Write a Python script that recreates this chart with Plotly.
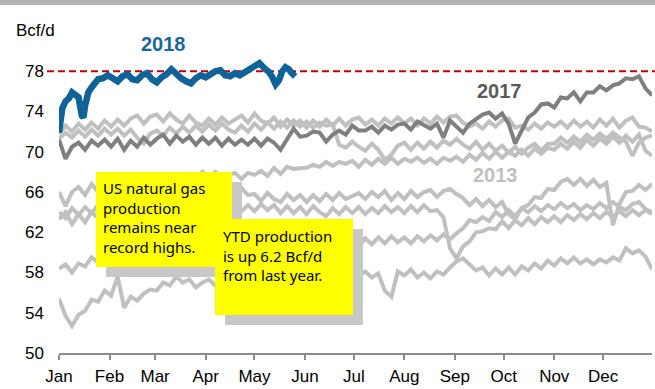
import pandas as pd
import plotly.graph_objects as go

# ---------------------------------------------------------------------------
# Daily US dry gas production (Bcf/d), sampled every 4 days of the year
# ---------------------------------------------------------------------------
BASE = pd.Timestamp("2018-01-01")
grid_days = list(range(0, 365, 4))

prod_2010 = [
    55.4, 53.7, 52.7, 53.8, 54.2, 55.3, 55.1, 56.2,
    55.7, 57.6, 54.5, 55.6, 55.2, 55.9, 56.3,
    56.2, 57.0, 56.7, 57.6, 57.0, 57.3, 56.5, 57.0,
    57.3, 56.7, 57.4, 56.9, 57.5, 57.1, 57.6,
    56.9, 57.5, 57.2, 57.8, 57.1, 57.7, 57.3, 57.9,
    57.4, 57.9, 57.3, 58.0, 57.5, 57.9, 57.6, 58.1,
    57.7, 58.1, 57.5, 57.9, 56.2, 55.6, 58.1,
    57.7, 58.3, 57.5, 58.0, 57.4, 58.1, 57.8, 58.5,
    59.1, 59.4, 58.8, 58.2, 58.5, 57.7, 58.4, 57.8,
    58.5, 57.8, 58.6, 58.2, 58.9, 58.4, 59.2,
    58.7, 59.4, 58.9, 59.5, 58.9, 59.3, 58.8, 59.3,
    59.0, 59.5, 59.2, 60.4, 59.9, 60.2, 59.6, 58.3,
]

prod_2011 = [
    58.4, 58.8, 58.0, 58.9, 58.6, 59.5, 59.0, 59.8,
    59.2, 59.9, 59.3, 60.1, 59.5, 60.2, 59.7,
    60.3, 59.8, 60.4, 59.9, 60.5, 60.0, 60.6, 60.1,
    60.7, 60.2, 60.8, 60.3, 60.9, 60.4, 61.0,
    60.5, 61.1, 60.6, 61.2, 60.7, 61.3, 60.8, 61.4,
    60.9, 61.5, 61.0, 60.7, 61.4, 60.9, 61.5, 61.0,
    60.6, 61.4, 60.8, 61.5, 60.9, 61.6, 61.0,
    61.5, 60.9, 61.6, 61.1, 61.7, 61.2, 61.8, 61.3,
    61.9, 62.4, 63.2, 63.0, 63.5, 63.1, 64.0, 63.5,
    64.2, 63.6, 64.4, 64.0, 64.6, 64.1, 64.7,
    64.3, 64.9, 64.4, 64.8, 64.2, 64.7, 64.3, 64.9,
    64.4, 65.0, 64.5, 64.2, 64.8, 65.0, 64.3, 64.0,
]

prod_2012 = [
    63.3, 64.0, 62.8, 63.8, 63.0, 64.0, 63.4, 64.2,
    63.5, 64.3, 63.7, 64.4, 63.8, 64.5, 63.9,
    64.6, 64.0, 64.7, 64.1, 64.8, 64.2, 64.7, 64.1,
    64.8, 64.2, 64.9, 64.3, 64.8, 64.1, 64.7,
    64.1, 64.8, 64.2, 64.7, 63.9, 64.6, 63.9, 64.5,
    63.8, 64.6, 64.0, 63.6, 64.4, 63.8, 64.5, 63.9,
    64.5, 63.8, 64.4, 63.9, 64.6, 64.0, 64.5,
    63.9, 64.6, 64.0, 64.7, 64.1, 64.2, 63.5, 60.4,
    59.4, 60.6, 61.1, 62.0, 62.1, 62.4, 62.3, 63.1,
    62.4, 63.2, 62.7, 63.4, 62.8, 63.5, 63.0,
    63.6, 63.0, 63.7, 63.2, 63.8, 63.3, 63.9, 63.4,
    64.0, 63.5, 64.1, 63.6, 64.2, 63.7, 64.2, 63.8,
]

prod_2013 = [
    64.0, 63.4, 64.4, 63.7, 64.5, 63.9, 64.7, 64.1,
    64.8, 64.2, 64.9, 64.4, 65.1, 64.5, 65.2,
    64.6, 65.3, 64.7, 65.4, 64.8, 65.5, 64.9, 65.6,
    65.0, 65.7, 65.1, 65.8, 65.7, 66.4, 65.7,
    65.8, 65.1, 65.9, 65.3, 65.0, 65.8, 65.2, 65.7,
    65.0, 65.7, 65.1, 65.8, 65.2, 65.9, 65.3, 65.6,
    65.9, 65.3, 66.0, 65.5, 66.1, 65.2, 65.9,
    65.3, 66.1, 65.5, 66.0, 66.2, 65.5, 66.1, 66.3,
    65.8, 65.4, 64.7, 65.3, 64.6, 65.2, 64.5, 65.0,
    63.8, 63.3, 64.4, 64.7, 65.5, 65.4, 66.3,
    66.2, 67.0, 67.3, 66.7, 67.3, 66.6, 67.2, 66.5,
    66.9, 62.7, 64.8, 66.0, 66.1, 66.7, 66.2, 66.8,
]

prod_2014 = [
    66.0, 64.6, 66.0, 66.5, 65.7, 66.8, 66.0, 66.2,
    66.7, 66.5, 67.0, 66.6, 67.3, 66.7, 67.4,
    66.9, 67.6, 67.0, 67.7, 67.1, 67.8, 67.2, 68.0,
    67.4, 68.0, 67.4, 67.7, 67.9, 67.3, 67.9,
    67.7, 68.1, 67.6, 68.4, 67.8, 68.5, 68.3, 68.4,
    68.4, 68.7, 68.5, 69.0, 68.6, 69.0, 68.8, 69.1,
    68.5, 69.2, 68.7, 69.3, 68.8, 69.4, 68.8,
    69.3, 69.0, 69.4, 68.9, 69.3, 68.8, 69.4, 69.1,
    69.5, 69.0, 69.7, 69.2, 69.9, 69.3, 70.0, 69.4,
    70.0, 69.6, 70.2, 69.6, 70.3, 69.8, 70.4,
    70.2, 70.8, 70.3, 71.0, 70.4, 71.2, 70.6, 71.3,
    70.8, 71.5, 70.9, 71.6, 71.0, 71.7, 70.1, 69.6,
]

prod_2015 = [
    71.8, 72.6, 72.0, 72.8, 72.2, 72.9, 72.3, 73.1,
    72.5, 73.2, 72.6, 73.3, 73.6, 72.8, 73.5,
    73.7, 73.0, 73.8, 73.2, 72.8, 73.6, 72.9, 72.6,
    73.3, 72.7, 73.4, 72.8, 73.2, 73.6, 72.9,
    73.8, 73.1, 72.8, 73.4, 72.5, 73.2, 72.6, 73.1,
    72.4, 73.1, 72.5, 73.2, 72.6, 73.3, 72.6, 73.2,
    73.4, 72.7, 73.2, 72.6, 73.3, 72.8, 73.4,
    72.8, 73.3, 72.6, 73.3, 72.8, 73.5, 72.9, 73.5,
    73.6, 72.9, 72.5, 72.8, 72.3, 73.0, 72.5, 73.1,
    73.3, 72.4, 72.6, 72.2, 72.8, 72.3, 72.9,
    72.5, 73.0, 72.4, 73.1, 72.5, 73.0, 72.4, 73.2,
    72.6, 73.3, 72.4, 73.1, 73.4, 72.5, 72.4, 72.0,
]

prod_2016 = [
    71.3, 71.9, 71.4, 72.1, 71.5, 72.2, 71.6, 72.3,
    71.7, 72.3, 71.6, 72.2, 71.4, 70.8, 71.8,
    72.1, 71.6, 72.4, 71.8, 72.5, 71.9, 72.6, 72.0,
    72.7, 72.1, 72.8, 72.2, 71.9, 72.6, 72.0,
    72.8, 72.2, 72.9, 72.3, 73.0, 72.4, 73.1, 72.5,
    73.0, 72.4, 72.9, 72.6, 72.7, 70.7, 70.4, 71.0,
    70.5, 70.1, 70.8, 70.2, 69.2, 69.7, 70.6,
    70.9, 70.2, 70.9, 70.3, 71.0, 70.4, 71.1, 70.7,
    71.3, 70.7, 70.3, 71.0, 70.2, 70.8, 70.1, 70.6,
    69.9, 70.5, 69.8, 70.4, 70.8, 70.1, 70.8,
    70.8, 71.4, 70.9, 71.5, 71.0, 71.7, 71.2, 71.8,
    71.3, 71.9, 71.4, 71.0, 69.6, 70.9, 71.4, 71.6,
]

prod_2017 = [
    71.2, 69.3, 70.5, 70.9, 70.2, 71.1, 70.6, 71.2,
    70.5, 71.3, 70.2, 71.1, 70.5, 71.4, 70.7,
    71.3, 71.7, 70.8, 71.6, 71.0, 71.5, 70.7, 71.4,
    70.8, 71.4, 70.6, 71.3, 70.7, 71.2, 70.7,
    71.3, 70.6, 71.3, 70.9, 70.2, 71.3, 72.3, 71.5,
    71.6, 72.0, 71.9, 71.0, 71.7, 72.1, 71.7, 72.6,
    72.1, 72.1, 72.5, 71.9, 72.6, 72.2, 72.7,
    72.8, 72.2, 73.0, 72.6, 72.3, 72.8, 71.4, 73.1,
    72.5, 71.9, 72.8, 73.2, 73.7, 73.9, 73.3, 73.8,
    72.8, 70.8, 72.0, 73.4, 73.9, 74.7, 74.8,
    74.4, 75.4, 75.3, 75.9, 75.0, 75.9, 75.9, 76.5,
    76.1, 76.6, 76.8, 77.3, 77.2, 77.5, 76.3, 75.6,
]

# 2018 year to date
days_2018 = [0, 2, 4, 6, 8, 10, 12, 14, 15, 16, 18, 20, 22, 24, 27, 30,
             33, 36, 39, 42, 45, 48, 51, 54, 57, 60, 63, 66, 69, 72, 75,
             78, 81, 84, 87, 90, 93, 96, 99, 102, 105, 108, 111, 114, 117,
             120, 123, 126, 129, 131, 133, 135, 137, 139, 141, 143, 145]
prod_2018 = [71.9, 74.3, 75.0, 75.3, 75.9, 75.7, 75.4, 73.6, 73.4, 74.6,
             75.9, 76.4, 76.9, 77.2, 77.3, 77.6, 77.3, 77.0, 77.5, 77.7,
             77.2, 77.1, 77.6, 77.8, 77.2, 76.9, 77.4, 77.7, 78.2, 77.7,
             77.3, 77.0, 76.8, 77.3, 77.6, 77.4, 77.7, 78.0, 78.1, 77.6,
             77.5, 77.8, 77.6, 77.9, 78.2, 78.6, 78.8, 78.3, 77.9, 77.4,
             76.7, 77.1, 78.0, 78.4, 78.2, 77.8, 77.5]

RECORD_LEVEL = 78
y_ticks = [50, 54, 58, 62, 66, 70, 74, 78]
month_ticks = pd.date_range("2018-01-01", periods=12, freq="MS")

history = [prod_2010, prod_2011, prod_2012, prod_2013,
           prod_2014, prod_2015, prod_2016]

note_1 = ["US natural gas", "production", "remains near", "record highs."]
note_2 = ["YTD production", "is up 6.2 Bcf/d", "from last year."]

LIGHT = "#c0c0c0"
DARK = "#7f7f7f"
BLUE = "#0f6399"
AXIS_FONT = "Liberation Sans, Arial, sans-serif"
NOTE_FONT = "Noto Sans, sans-serif"


def to_dates(days):
    return BASE + pd.to_timedelta(days, unit="D")


fig = go.Figure()

for series in history:
    fig.add_trace(go.Scatter(
        x=to_dates(grid_days), y=series, mode="lines",
        line=dict(color=LIGHT, width=4), hoverinfo="skip", showlegend=False,
    ))

fig.add_trace(go.Scatter(
    x=to_dates(grid_days), y=prod_2017, mode="lines",
    line=dict(color=DARK, width=4), showlegend=False,
))

fig.add_trace(go.Scatter(
    x=to_dates(days_2018), y=prod_2018, mode="lines",
    line=dict(color=BLUE, width=6.5), showlegend=False,
))

# plot-area geometry in pixels, used to place boxes and labels
L, R, T, B = 59, 3, 31, 36
W, H = 655, 389
PW, PH = W - L - R, H - T - B


def px(x):
    return (x - L) / PW


def py(y):
    return (H - B - y) / PH


shapes = [
    # grey strip along the top of the panel
    dict(type="rect", xref="paper", yref="paper",
         x0=px(0), x1=px(W), y0=py(5), y1=py(0),
         fillcolor="#b4b4b4", line=dict(width=0), layer="above"),
    # record level
    dict(type="line", xref="paper", yref="y",
         x0=px(47), x1=px(W), y0=RECORD_LEVEL, y1=RECORD_LEVEL,
         line=dict(color="#c00000", width=2, dash="7px,4px"), layer="below"),
]


def note_box(x0, y0, x1, y1):
    return [
        dict(type="rect", xref="paper", yref="paper",
             x0=px(x0 + 10), x1=px(x1 + 10), y0=py(y1 + 10), y1=py(y0 + 10),
             fillcolor="#c8c8c8", line=dict(width=0), layer="above"),
        dict(type="rect", xref="paper", yref="paper",
             x0=px(x0), x1=px(x1), y0=py(y1), y1=py(y0),
             fillcolor="#ffff00", line=dict(width=0), layer="above"),
    ]


shapes += note_box(96, 172, 232, 267)
shapes += note_box(215, 219, 353, 315)


def label(text, x, y, size, color, family=AXIS_FONT, anchor="center"):
    return dict(text=text, xref="paper", yref="paper", x=px(x), y=py(y),
                xanchor=anchor, yanchor="middle", align="left",
                showarrow=False, borderpad=0,
                font=dict(family=family, size=size, color=color))


annotations = [
    label("Bcf/d", 15, 30, 17, "#000000", anchor="left"),
    label("<b>2018</b>", 163, 44, 20, "#1a679c"),
    label("<b>2017</b>", 499, 91, 20, "#5a5a5a"),
    label("<b>2013</b>", 496, 175, 20, "#c0c0c0"),
    label("<br>".join(note_1), 102, 217, 15, "#000000",
          family=NOTE_FONT, anchor="left"),
    label("<br>".join(note_2), 222, 256, 15, "#000000",
          family=NOTE_FONT, anchor="left"),
]

fig.update_layout(
    width=W, height=H,
    margin=dict(l=L, r=R, t=T, b=B, pad=0),
    paper_bgcolor="white", plot_bgcolor="white",
    shapes=shapes, annotations=annotations,
    showlegend=False,
    xaxis=dict(
        range=[BASE, BASE + pd.Timedelta(days=364)],
        tickvals=month_ticks, tickformat="%b",
        showgrid=False, zeroline=False,
        showline=True, linecolor="#8c8c8c", linewidth=2,
        ticks="outside", ticklen=5, tickwidth=2, tickcolor="#8c8c8c",
        ticklabelstandoff=2,
        tickfont=dict(family=AXIS_FONT, size=17, color="#000000"),
    ),
    yaxis=dict(
        range=[50, 82], tickvals=y_ticks,
        showgrid=False, zeroline=False, showline=False, ticks="",
        ticklabelstandoff=14,
        tickfont=dict(family=AXIS_FONT, size=17, color="#000000"),
    ),
)

fig.write_html("out.html")
